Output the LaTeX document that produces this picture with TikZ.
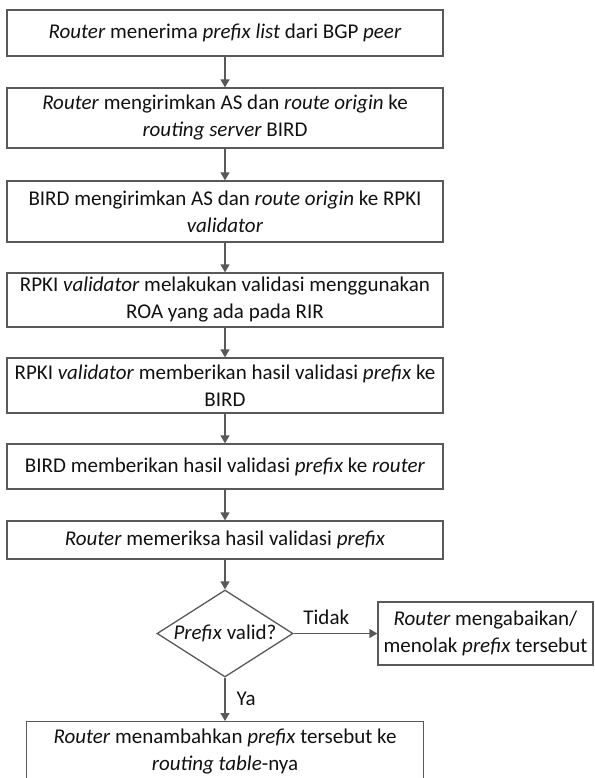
\documentclass[tikz,border=0pt]{standalone}
\usepackage{fontspec}
\setmainfont{Carlito}
\usetikzlibrary{shapes.geometric,arrows.meta}
\definecolor{ln}{HTML}{595959}
\definecolor{tx}{HTML}{111111}
\begin{document}
\begin{tikzpicture}[x=1pt,y=-1pt,
  every node/.style={text=tx,font=\fontsize{21}{27}\selectfont},
  stepbox/.style={draw=ln,line width=1.3pt,rectangle,inner sep=0pt,minimum width=436pt,align=center},
  arr/.style={draw=ln,line width=1.3pt,-{Triangle[width=9pt,length=8pt]}},
  lbl/.style={inner sep=0pt}]
\useasboundingbox (0,0) rectangle (594,778);
\begin{scope}
\clip (0,0) rectangle (594,778);
\node[stepbox,minimum height=46pt] (b1) at (225,33) {\textit{Router} menerima \textit{prefix list} dari BGP \textit{peer}};
\node[stepbox,minimum height=60pt] (b2) at (225,118) {\textit{Router} mengirimkan AS dan \textit{route origin} ke\\\textit{routing server} BIRD};
\node[stepbox,minimum height=61pt] (b3) at (225,211.5) {BIRD mengirimkan AS dan \textit{route origin} ke RPKI\\\textit{validator}};
\node[stepbox,minimum height=54pt] (b4) at (225,300) {RPKI \textit{validator} melakukan validasi menggunakan\\ROA yang ada pada RIR};
\node[stepbox,minimum height=55pt] (b5) at (225,385.5) {RPKI \textit{validator} memberikan hasil validasi \textit{prefix} ke\\BIRD};
\node[stepbox,minimum height=45pt] (b6) at (225,466.5) {BIRD memberikan hasil validasi \textit{prefix} ke \textit{router}};
\node[stepbox,minimum height=38pt] (b7) at (225,540) {\textit{Router} memeriksa hasil validasi \textit{prefix}};
\node[draw=ln,line width=1.3pt,diamond,aspect=1.56,inner sep=0pt,minimum width=136pt,minimum height=87pt] (d) at (225,633.5) {\textit{Prefix} valid?};
\node[draw=ln,line width=1.3pt,rectangle,inner sep=0pt,minimum width=215pt,minimum height=63pt,align=center] (r) at (485.5,633.5) {\textit{Router} mengabaikan/\\menolak \textit{prefix} tersebut};
\node[draw=ln,line width=1.3pt,rectangle,inner sep=0pt,minimum width=397pt,minimum height=60pt,align=center,anchor=north] (b8) at (225,721) {\textit{Router} menambahkan \textit{prefix} tersebut ke\\\textit{routing table}-nya};
\draw[arr] (b1) -- (b2);
\draw[arr] (b2) -- (b3);
\draw[arr] (b3) -- (b4);
\draw[arr] (b4) -- (b5);
\draw[arr] (b5) -- (b6);
\draw[arr] (b6) -- (b7);
\draw[arr] (b7) -- (d);
\draw[arr] (d.east) -- (r.west) node[lbl,pos=0.39,above=8pt] {Tidak};
\draw[arr] (d.south) -- (b8.north) node[lbl,pos=0.5,right=11pt] {Ya};
\end{scope}
\end{tikzpicture}
\end{document}
